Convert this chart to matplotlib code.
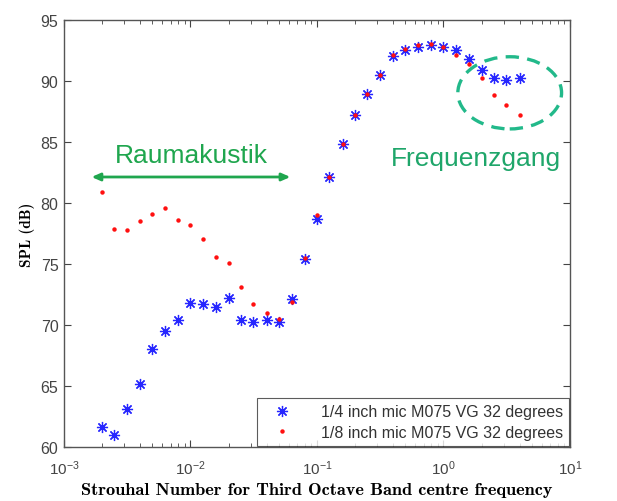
import matplotlib
matplotlib.use("Agg")
import matplotlib.pyplot as plt
from matplotlib.patches import Ellipse

plt.rcParams['font.family'] = ['Liberation Sans', 'DejaVu Sans']
plt.rcParams['mathtext.fontset'] = 'custom'
plt.rcParams['mathtext.rm'] = 'Liberation Sans'
plt.rcParams['mathtext.it'] = 'Liberation Sans'

# third octave band centre Strouhal numbers
strouhal = [0.002, 0.0025, 0.00315, 0.004, 0.005, 0.0063, 0.008, 0.01, 0.0125, 0.016,
            0.02, 0.025, 0.0315, 0.04, 0.05, 0.063, 0.08, 0.1, 0.125, 0.16,
            0.2, 0.25, 0.315, 0.4, 0.5, 0.63, 0.8, 1.0, 1.25, 1.6,
            2.0, 2.5, 3.15, 4.0]

spl_quarter = [61.6, 61.0, 63.1, 65.2, 68.0, 69.5, 70.4, 71.8, 71.7, 71.5,
               72.2, 70.4, 70.2, 70.4, 70.2, 72.1, 75.4, 78.7, 82.1, 84.8,
               87.2, 88.9, 90.5, 92.0, 92.5, 92.8, 92.9, 92.8, 92.5, 91.8,
               90.9, 90.2, 90.1, 90.2]

spl_eighth = [80.9, 77.9, 77.8, 78.5, 79.1, 79.6, 78.6, 78.2, 77.0, 75.6,
              75.1, 73.1, 71.7, 71.0, 70.5, 71.9, 75.5, 79.0, 82.1, 84.8,
              87.2, 88.9, 90.5, 92.1, 92.6, 92.9, 93.0, 92.8, 92.1, 91.4,
              90.2, 88.8, 88.0, 87.2]

labels = ['1/4 inch mic M075 VG 32 degrees', '1/8 inch mic M075 VG 32 degrees']

fig = plt.figure(figsize=(6.17, 5.02), dpi=100)
ax = fig.add_axes([0.1037, 0.1076, 0.820, 0.851])

ax.plot(strouhal, spl_quarter, linestyle='none', marker=(8, 2, 0), markersize=8,
        markeredgewidth=0.9, color='#2626ff', label=labels[0])
ax.plot(strouhal, spl_eighth, linestyle='none', marker='o', markersize=3.2,
        markeredgewidth=0, color='#ff1010', label=labels[1])

ax.set_xscale('log')
ax.set_xlim(1e-3, 1e1)
ax.set_ylim(60, 95)
ax.set_yticks(range(60, 96, 5))
ax.set_xticks([1e-3, 1e-2, 1e-1, 1e0, 1e1])
ax.set_xticklabels([r'$10^{-3}$', r'$10^{-2}$', r'$10^{-1}$', r'$10^{0}$', r'$10^{1}$'])

ax.tick_params(which='both', direction='in', top=True, right=True, colors='#444444',
               labelsize=11.5)
ax.tick_params(axis='x', which='major', length=5, pad=8, labelsize=11)
ax.tick_params(axis='x', which='minor', length=3)
ax.tick_params(axis='y', length=5, pad=4)
for s in ax.spines.values():
    s.set_color('#555555')
    s.set_linewidth(1.0)

ax.set_xlabel('Strouhal Number for Third Octave Band centre frequency',
              family='cmb10', fontsize=13.2, labelpad=4)
ax.set_ylabel('SPL (dB)', family='cmb10', fontsize=11, labelpad=4)

# annotations
ax.annotate('', xy=(0.049, 0.632), xytext=(0.453, 0.632), xycoords='axes fraction',
            arrowprops=dict(arrowstyle='<|-|>,head_length=0.5,head_width=0.22',
                            color='#1fa64e', lw=2))
ax.text(0.251, 0.683, 'Raumakustik', transform=ax.transAxes, color='#1fa64e',
        fontsize=19, ha='center', va='center')
ax.text(0.814, 0.676, 'Frequenzgang', transform=ax.transAxes, color='#1fa66a',
        fontsize=19, ha='center', va='center')
ax.add_patch(Ellipse((0.881, 0.829), 0.205, 0.169, transform=ax.transAxes,
                     fill=False, edgecolor='#22b98a', lw=2.4, linestyle=(0, (4, 2.5))))

leg = ax.legend(loc='lower right', fontsize=11.5, frameon=True, fancybox=False,
                borderaxespad=0.05, handletextpad=1.2, labelspacing=0.35,
                borderpad=0.4, handlelength=2.4)
leg.get_frame().set_edgecolor('#333333')
leg.get_frame().set_linewidth(0.8)
for t in leg.get_texts():
    t.set_color('#333333')

fig.savefig('out.png', dpi=100)
